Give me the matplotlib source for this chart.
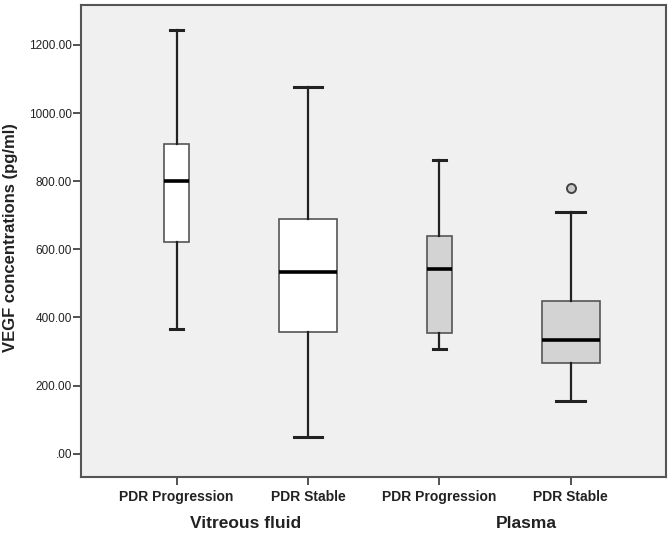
import numpy as np
import matplotlib
matplotlib.use("Agg")
import matplotlib.pyplot as plt

# box statistics (pg/ml)
labels = ["PDR Progression", "PDR Stable", "PDR Progression", "PDR Stable"]
groups = ["Vitreous fluid", "Plasma"]
whislo = [365, 48, 307, 155]
q1 = [622, 358, 353, 265]
med = [801, 534, 543, 335]
q3 = [909, 690, 639, 448]
whishi = [1244, 1075, 861, 710]
fliers = [[], [], [], [779]]

# styling
box_colors = ["white", "white", "#d3d3d3", "#d3d3d3"]
box_widths = [0.193, 0.442, 0.193, 0.442]
cap_widths = [0.097, 0.22, 0.097, 0.22]

plt.rcParams['font.family'] = ['Liberation Sans', 'DejaVu Sans']

fig = plt.figure(figsize=(6.72, 5.36), dpi=100)
ax = fig.add_axes([0.1205, 0.1106, 0.8705, 0.880])
ax.set_facecolor("#f0f0f0")

stats = []
for i in range(len(labels)):
    stats.append(dict(whislo=whislo[i], q1=q1[i], med=med[i], q3=q3[i],
                      whishi=whishi[i], fliers=fliers[i], label=labels[i]))

bp = ax.bxp(stats, positions=range(len(labels)), widths=box_widths,
            capwidths=cap_widths, patch_artist=True, showfliers=True,
            boxprops=dict(edgecolor="#555555", linewidth=1.2),
            medianprops=dict(color="black", linewidth=2.6, solid_capstyle="butt"),
            whiskerprops=dict(color="#222222", linewidth=1.6),
            capprops=dict(color="#222222", linewidth=2.2),
            flierprops=dict(marker="o", markersize=6.5, markerfacecolor="#c8c8c8",
                            markeredgecolor="#444444", markeredgewidth=1.4))
for patch, c in zip(bp["boxes"], box_colors):
    patch.set_facecolor(c)

ax.set_xlim(-0.729, 3.727)
ax.set_ylim(-67.5, 1317)
ax.set_yticks(np.arange(0, 1201, 200))
ax.set_yticklabels([".00" if v == 0 else "%.2f" % v for v in np.arange(0, 1201, 200)],
                   fontsize=8.5, color="#222222")
ax.set_xticks(range(len(labels)))
ax.set_xticklabels(labels, fontsize=10, fontweight="bold", color="#222222")
ax.tick_params(axis="both", direction="out", length=5.5, width=1.2, color="#333333")
ax.tick_params(axis="x", pad=4)
ax.tick_params(axis="y", pad=1)

for s in ax.spines.values():
    s.set_color("#555555")
    s.set_linewidth(1.5)

ax.set_ylabel("VEGF concentrations (pg/ml)", fontsize=12, fontweight="bold",
              color="#222222")
ax.yaxis.set_label_coords(-0.108, 0.508)

trans = ax.get_xaxis_transform()
ax.text(0.528, -0.10, groups[0], transform=trans, ha="center", va="center",
        fontsize=12.5, fontweight="bold", color="#222222")
ax.text(2.66, -0.10, groups[1], transform=trans, ha="center", va="center",
        fontsize=12.5, fontweight="bold", color="#222222")

fig.savefig("out.png", dpi=100, facecolor="white")
